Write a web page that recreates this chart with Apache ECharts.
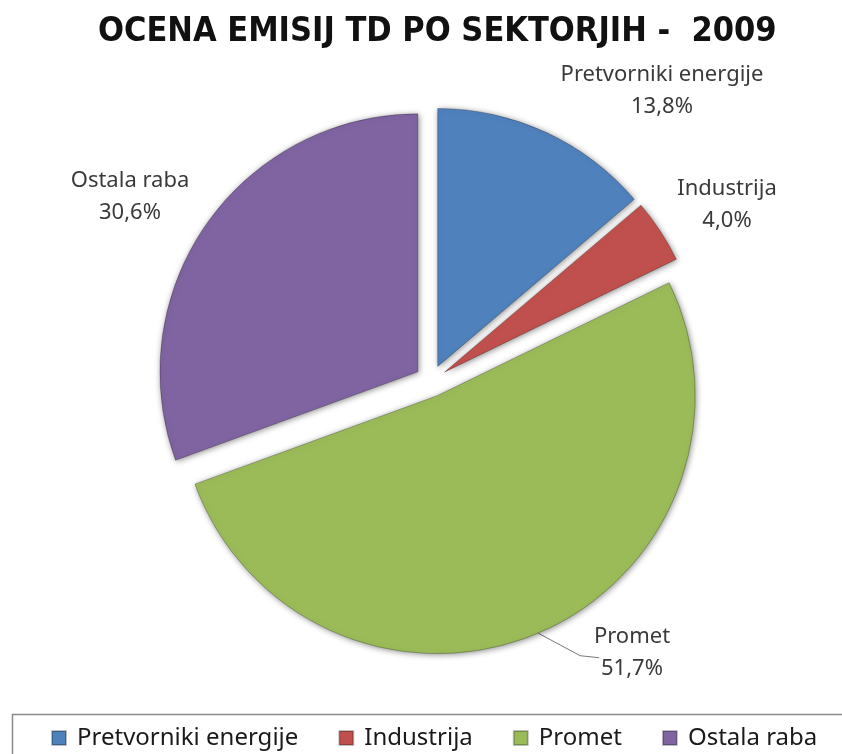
<!DOCTYPE html>
<html>
<head>
<meta charset="utf-8">
<script src="https://cdn.jsdelivr.net/npm/echarts@6/dist/echarts.min.js"></script>
<style>
  html, body { margin: 0; padding: 0; background: #fff; }
  #chart { width: 842px; height: 754px; }
</style>
</head>
<body>
<div id="chart"></div>
<script>
// podatki
var sectors = ['Pretvorniki energije', 'Industrija', 'Promet', 'Ostala raba'];
var shares = [13.8, 4.0, 51.7, 30.6];
var colors = ['#4F81BD', '#C0504D', '#9BBB59', '#8064A2'];

// središča oznak
var labelAt = [[662, 91], [727, 205], [632, 653], [130, 197]];

var explode = 16;

// srednji koti izsekov (za odmik izbranih izsekov)
var total = shares.reduce(function (a, b) { return a + b; }, 0);
var midAngle = [];
var acc = 0;
shares.forEach(function (v) {
    midAngle.push((acc + v / 2) / total * Math.PI * 2);
    acc += v;
});

var myChart = echarts.init(document.getElementById('chart'));

var pieData = sectors.map(function (name, i) {
    return {
        name: name,
        value: shares[i],
        selected: true,
        itemStyle: { color: colors[i] },
        labelLine: { show: i === 2 }
    };
});

var option = {
    animation: false,
    title: {
        text: 'OCENA EMISIJ TD PO SEKTORJIH -  2009',
        left: 93,
        top: 10,
        textStyle: {
            fontFamily: 'DejaVu Sans Condensed',
            fontWeight: 'bold',
            fontSize: 34,
            color: '#111'
        }
    },
    // okvir legende
    graphic: [{
        type: 'rect',
        shape: { x: 12.5, y: 714.5, width: 850, height: 60 },
        style: { fill: 'none', stroke: '#8a8a8a', lineWidth: 1.5 }
    }],
    legend: {
        left: 46,
        top: 721,
        itemWidth: 14,
        itemHeight: 14,
        itemGap: 40,
        icon: 'rect',
        selectedMode: false,
        textStyle: {
            fontFamily: 'Noto Sans',
            fontSize: 24,
            color: '#1a1a1a',
            padding: [0, 0, 0, 6]
        },
        data: sectors
    },
    series: [{
        type: 'pie',
        center: [431, 381],
        radius: [0, 258],
        startAngle: 90,
        clockwise: true,
        selectedMode: 'multiple',
        selectedOffset: explode,
        avoidLabelOverlap: false,
        data: pieData,
        itemStyle: {
            borderColor: 'rgba(0,0,0,0.25)',
            borderWidth: 1,
            shadowBlur: 6,
            shadowColor: 'rgba(0,0,0,0.45)',
            shadowOffsetX: 1,
            shadowOffsetY: 1
        },
        emphasis: { disabled: true },
        label: {
            show: true,
            position: 'outside',
            color: '#3a3a3a',
            formatter: function (p) {
                return '{a|' + p.name + '}\n{a|' + p.value.toFixed(1).replace('.', ',') + '%}';
            },
            rich: {
                a: {
                    width: 210,
                    align: 'center',
                    fontFamily: 'Noto Sans',
                    fontSize: 22,
                    lineHeight: 32,
                    color: '#3a3a3a'
                }
            }
        },
        labelLine: {
            length: 10,
            length2: 10,
            lineStyle: { color: '#777', width: 1 }
        },
        // oznake premaknemo na želena mesta (upoštevamo odmik izseka)
        labelLayout: function (p) {
            var i = p.dataIndex;
            var pos = labelAt[i];
            var r = p.labelRect;
            var res = {
                dx: pos[0] - (r.x + r.width / 2) - explode * Math.sin(midAngle[i]),
                dy: pos[1] - (r.y + r.height / 2) + explode * Math.cos(midAngle[i])
            };
            if (i === 2 && p.labelLinePoints) {
                var s = p.labelLinePoints[0];
                res.labelLinePoints = [s, [pos[0] - 58, pos[1] - 12], [pos[0] - 39, pos[1] - 10]];
            }
            return res;
        }
    }]
};

myChart.setOption(option);
</script>
</body>
</html>
